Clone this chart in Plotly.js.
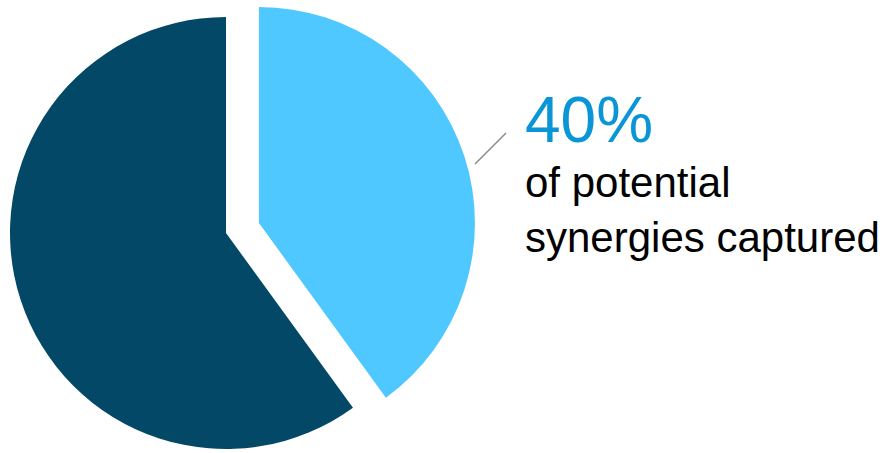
<!DOCTYPE html>
<html>
<head>
<meta charset="utf-8">
<script src="https://cdn.plot.ly/plotly-3.0.1.min.js"></script>
<style>
html,body{margin:0;padding:0;background:#fff;overflow:hidden;}
#chart{width:887px;height:453px;}
</style>
</head>
<body>
<div id="chart"></div>
<script>
// Data
const labels = ["Not yet captured", "Synergies captured"];
const values = [60, 40];
const sliceColors = ["#034866", "#4fc8ff"];
const highlightValue = "40%";
const highlightText = ["of potential", "synergies captured"];

const W = 887, H = 453;
const px = x => x / W;
const py = y => 1 - y / H;

// order: captured first (clockwise from 12 o'clock), then the rest
const ordLabels = [labels[1], labels[0]];
const ordValues = [values[1], values[0]];

function pieTrace(showIdx, domain) {
  const colors = [sliceColors[1], sliceColors[0]].map((c, i) => i === showIdx ? c : "rgba(0,0,0,0)");
  return {
    type: "pie",
    labels: ordLabels,
    values: ordValues,
    sort: false,
    direction: "clockwise",
    rotation: 0,
    textinfo: "none",
    hoverinfo: "label+percent",
    showlegend: false,
    marker: {colors: colors, line: {width: 0}},
    domain: domain
  };
}

const data = [
  pieTrace(1, {x: [0, 0.5096], y: [0.0088, 0.9625]}),
  pieTrace(0, {x: [0.0372, 0.5467], y: [0.0309, 0.9845]})
];

const layout = {
  width: W, height: H,
  margin: {l: 0, r: 0, t: 0, b: 0},
  paper_bgcolor: "#ffffff",
  plot_bgcolor: "#ffffff",
  showlegend: false,
  shapes: [{
    type: "line", xref: "paper", yref: "paper",
    x0: px(475), y0: py(164), x1: px(506), y1: py(133),
    line: {color: "#888888", width: 1.5}
  }],
  annotations: [
    {
      xref: "paper", yref: "paper", x: px(523), y: py(120),
      xanchor: "left", yanchor: "middle", showarrow: false,
      text: highlightValue,
      font: {family: "Liberation Sans, Arial, sans-serif", size: 64, color: "#0a96d6"}
    },
    {
      xref: "paper", yref: "paper", x: px(523), y: py(210),
      xanchor: "left", yanchor: "middle", align: "left", showarrow: false,
      text: highlightText.join("<br>"),
      font: {family: "Liberation Sans, Arial, sans-serif", size: 42, color: "#000000"}
    }
  ]
};

Plotly.newPlot("chart", data, layout, {displayModeBar: false, staticPlot: true});
</script>
</body>
</html>
